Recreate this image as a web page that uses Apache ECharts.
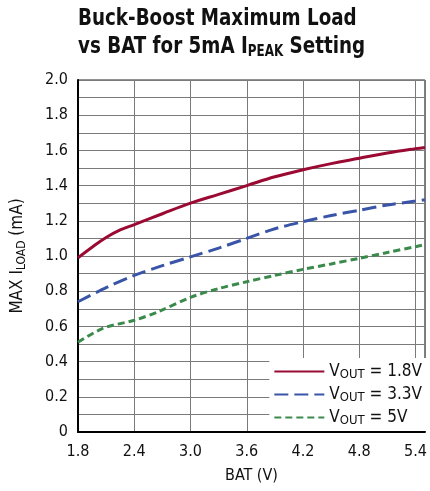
<!DOCTYPE html>
<html><head><meta charset="utf-8">
<script src="https://cdn.jsdelivr.net/npm/echarts@6/dist/echarts.min.js"></script>
<style>html,body{margin:0;padding:0;background:#fff}#c{width:430px;height:491px}</style>
</head><body><div id="c"></div>
<script>
var batRed  = [1.8, 1.95, 2.1, 2.25, 2.4, 2.7, 3.0, 3.3, 3.6, 3.9, 4.2, 4.5, 4.8, 5.1, 5.4, 5.5];
var loadRed = [0.99, 1.05, 1.105, 1.148, 1.178, 1.24, 1.30, 1.35, 1.40, 1.45, 1.49, 1.525, 1.555, 1.585, 1.61, 1.617];
var batBlue  = [1.8, 2.1, 2.4, 2.7, 3.0, 3.3, 3.6, 3.9, 4.2, 4.5, 4.8, 5.1, 5.4, 5.5];
var loadBlue = [0.74, 0.82, 0.89, 0.945, 0.995, 1.045, 1.10, 1.155, 1.195, 1.23, 1.26, 1.29, 1.312, 1.32];
var batGreen  = [1.8, 2.07, 2.4, 2.66, 3.0, 3.3, 3.6, 3.9, 4.2, 4.5, 4.8, 5.1, 5.4, 5.5];
var loadGreen = [0.51, 0.59, 0.635, 0.684, 0.765, 0.815, 0.854, 0.89, 0.924, 0.955, 0.987, 1.02, 1.053, 1.065];
var seriesNames = ['1.8V', '3.3V', '5V'];
var xTickStep = 0.6, yTickStep = 0.1;

function pairs(xs, ys){ return xs.map(function(x,i){ return [x, ys[i]]; }); }
var FONT = '"Liberation Sans Narrow","DejaVu Sans Condensed","Liberation Sans",sans-serif';
var chart = echarts.init(document.getElementById('c'), null, {renderer:'canvas'});
chart.setOption({
  animation: false,
  backgroundColor: '#fff',
  graphic: [{
    type: 'text', x: 78, y: 5, scaleX: 0.885, z: 10,
    style: {
      text: '{b|Buck-Boost Maximum Load}\n{b|vs BAT for 5mA I}{s|PEAK}{b| Setting}',
      rich: {
        b: {fontFamily: FONT, fontWeight: 'bold', fontSize: 23, fill: '#111', lineHeight: 28},
        s: {fontFamily: FONT, fontWeight: 'bold', fontSize: 15, fill: '#111', lineHeight: 28, padding: [10,0,0,0]}
      }
    }
  }],
  grid: {left: 78, top: 80, right: 0, bottom: 59, show: true, borderColor: '#222', borderWidth: 1},
  xAxis: {
    type: 'value', min: 1.8, max: 5.5, interval: xTickStep,
    name: 'BAT (V)', nameLocation: 'middle', nameGap: 36,
    nameTextStyle: {fontFamily: FONT, fontSize: 16, color: '#111'},
    axisLine: {lineStyle: {color: '#000', width: 2}},
    axisTick: {show: false},
    axisLabel: {fontFamily: FONT, fontSize: 16, color: '#111', margin: 12, showMaxLabel: false,
      formatter: function(v){ return v.toFixed(1); }},
    splitLine: {show: true, lineStyle: {color: '#7a7a7a', width: 1}}
  },
  yAxis: {
    type: 'value', min: 0, max: 2.0, interval: yTickStep,
    name: '{n|MAX I}{s|LOAD}{n| (mA)}', nameLocation: 'middle', nameGap: 50, nameRotate: 90,
    nameTextStyle: {rich: {
      n: {fontFamily: FONT, fontSize: 17, color: '#111', lineHeight: 20},
      s: {fontFamily: FONT, fontSize: 12, color: '#111', lineHeight: 20, padding: [7,0,0,0]}
    }},
    axisLine: {show: true, lineStyle: {color: '#000', width: 2}},
    axisTick: {show: false},
    axisLabel: {fontFamily: FONT, fontSize: 16, color: '#111', margin: 10,
      formatter: function(v){
        var k = Math.round(v * 10);
        if (k % 2 !== 0) return '';
        return k === 0 ? '0' : v.toFixed(1);
      }},
    splitLine: {show: true, lineStyle: {color: '#7a7a7a', width: 1}}
  },
  legend: {
    orient: 'vertical', right: 0, bottom: 60,
    backgroundColor: '#fff', padding: [4, 8, 4, 4],
    itemWidth: 50, itemHeight: 12, itemGap: 4,
    itemStyle: {opacity: 0},
    data: seriesNames,
    formatter: function(name){ return '{n|V}{s|OUT}{n| = ' + name + '}'; },
    textStyle: {rich: {
      n: {fontFamily: FONT, fontSize: 17, color: '#111', lineHeight: 20},
      s: {fontFamily: FONT, fontSize: 13, color: '#111', lineHeight: 20, padding: [6,0,0,0]}
    }}
  },
  series: [
    {name: seriesNames[0], type: 'line', data: pairs(batRed, loadRed), smooth: 0.4, symbol: 'none',
     lineStyle: {color: '#9a0a32', width: 3}, itemStyle: {color: '#9a0a32'}},
    {name: seriesNames[1], type: 'line', data: pairs(batBlue, loadBlue), smooth: 0.3, symbol: 'none',
     lineStyle: {color: '#3a55a8', width: 3, type: [14, 6]}, itemStyle: {color: '#3a55a8'}},
    {name: seriesNames[2], type: 'line', data: pairs(batGreen, loadGreen), smooth: 0.3, symbol: 'none',
     lineStyle: {color: '#3a8a4c', width: 3, type: [7, 4]}, itemStyle: {color: '#3a8a4c'}}
  ]
});
</script></body></html>
